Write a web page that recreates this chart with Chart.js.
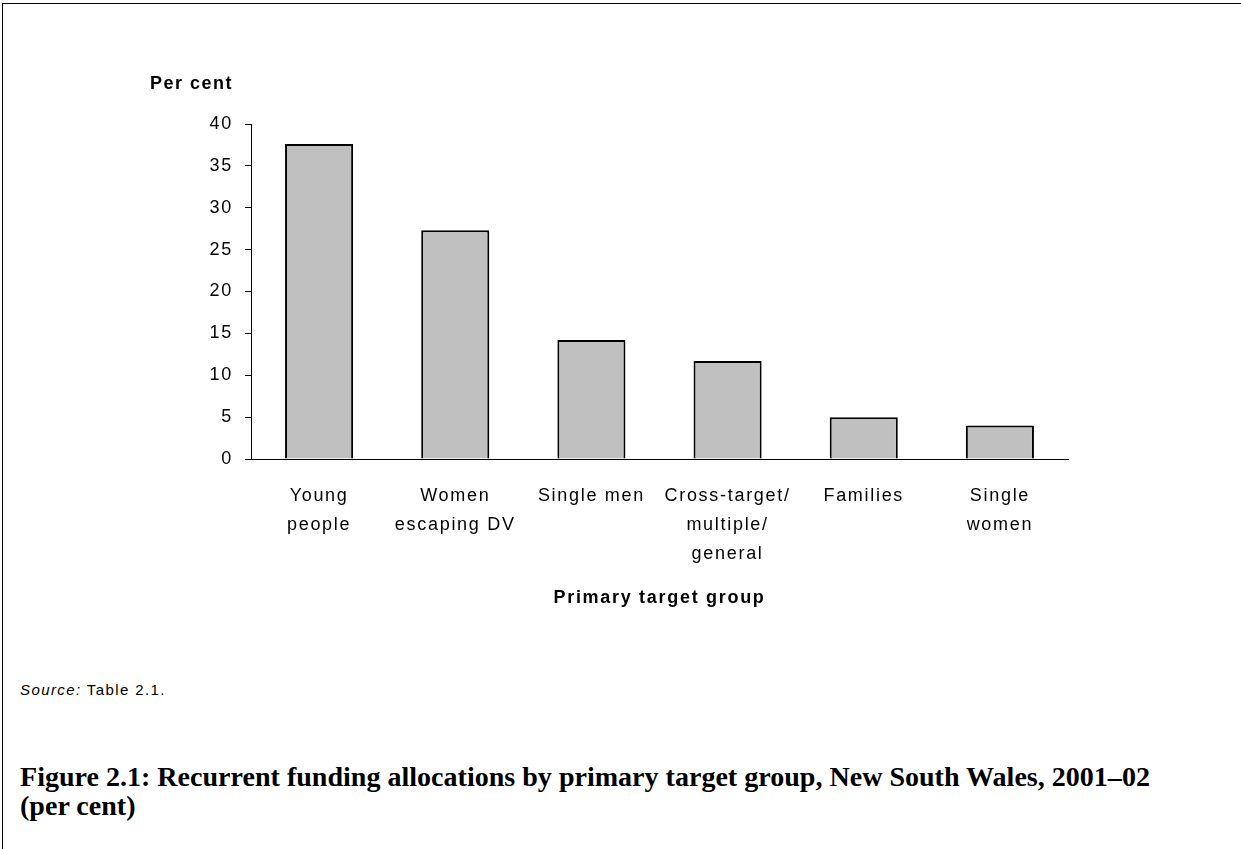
<!DOCTYPE html>
<html>
<head>
<meta charset="utf-8">
<script src="https://cdn.jsdelivr.net/npm/chart.js@4/dist/chart.umd.min.js"></script>
<style>
  html, body { margin: 0; padding: 0; background: #fff; }
  body { width: 1241px; height: 849px; position: relative; overflow: hidden; }
  #frame { position: absolute; left: 2px; top: 3px; width: 1239px; height: 846px;
           border-top: 1px solid #000; border-left: 1px solid #000; box-sizing: border-box; }
  #wrap { position: absolute; left: 0; top: 0; width: 1241px; height: 640px; }
  #ytitle { position: absolute; left: 150px; top: 73px; font: bold 18px "Liberation Sans", Arial, sans-serif;
            letter-spacing: 1.5px; line-height: 20px; color: #000; white-space: nowrap; }
  #source { position: absolute; left: 20px; top: 681px; font: 15px "Liberation Sans", Arial, sans-serif;
            letter-spacing: 1.4px; line-height: 18px; color: #000; white-space: nowrap; }
  #caption { position: absolute; left: 20px; top: 762px; font: bold 28px "Liberation Serif", "Times New Roman", serif;
             line-height: 29px; color: #000; white-space: nowrap; }
</style>
</head>
<body>
<div id="frame"></div>
<div id="wrap"><canvas id="c" width="1241" height="640"></canvas></div>
<div id="ytitle">Per cent</div>
<div id="source"><i>Source:</i> Table 2.1.</div>
<div id="caption"><span id="cap1">Figure 2.1: Recurrent funding allocations by primary target group, New South Wales, 2001–02</span><br>(per cent)</div>
<script>
const categories = [
  ['Young', 'people'],
  ['Women', 'escaping DV'],
  ['Single men'],
  ['Cross-target/', 'multiple/', 'general'],
  ['Families'],
  ['Single', 'women']
];
const values = [37.6, 27.3, 14.2, 11.7, 5.0, 4.0];
const yTickValues = [0, 5, 10, 15, 20, 25, 30, 35, 40];
const xAxisTitle = 'Primary target group';

const FONT = '"Liberation Sans", Arial, sans-serif';

// fit caption first line to the reference width
(function () {
  const cap = document.getElementById('caption');
  const s = document.getElementById('cap1');
  const target = 1130;
  const w = s.getBoundingClientRect().width;
  if (w > 0) {
    const fs = parseFloat(getComputedStyle(cap).fontSize) * target / w;
    cap.style.fontSize = fs.toFixed(2) + 'px';
  }
})();

const spacingPlugin = {
  id: 'spacing',
  beforeDraw(chart) { chart.ctx.letterSpacing = '1.7px'; }
};

new Chart(document.getElementById('c'), {
  type: 'bar',
  data: {
    labels: categories,
    datasets: [{
      data: values,
      backgroundColor: '#c0c0c0',
      borderColor: '#000',
      borderWidth: 2,
      barPercentage: 0.5,
      categoryPercentage: 1.0
    }]
  },
  plugins: [spacingPlugin],
  options: {
    responsive: false,
    animation: false,
    events: [],
    layout: { padding: { left: 0, top: 124, right: 173, bottom: 31 } },
    plugins: { legend: { display: false }, tooltip: { enabled: false } },
    scales: {
      x: {
        grid: { display: false },
        border: { display: true, color: '#000', width: 1 },
        ticks: {
          color: '#000', font: { family: FONT, size: 18, lineHeight: 29 / 18 },
          padding: 15, maxRotation: 0, minRotation: 0, autoSkip: false
        },
        title: {
          display: true, text: xAxisTitle, color: '#000',
          font: { family: FONT, size: 18, weight: 'bold' },
          padding: { top: 0, bottom: 0 }
        },
        afterFit: s => { s.height = 150; }
      },
      y: {
        min: 0, max: 40,
        afterBuildTicks: s => { s.ticks = yTickValues.map(v => ({ value: v })); },
        grid: { display: true, drawOnChartArea: false, drawTicks: true, tickLength: 6, color: '#000', lineWidth: 1 },
        border: { display: true, color: '#000', width: 1 },
        ticks: { color: '#000', font: { family: FONT, size: 18 }, padding: 12 },
        afterFit: s => { s.width = 251; }
      }
    }
  }
});
</script>
</body>
</html>
